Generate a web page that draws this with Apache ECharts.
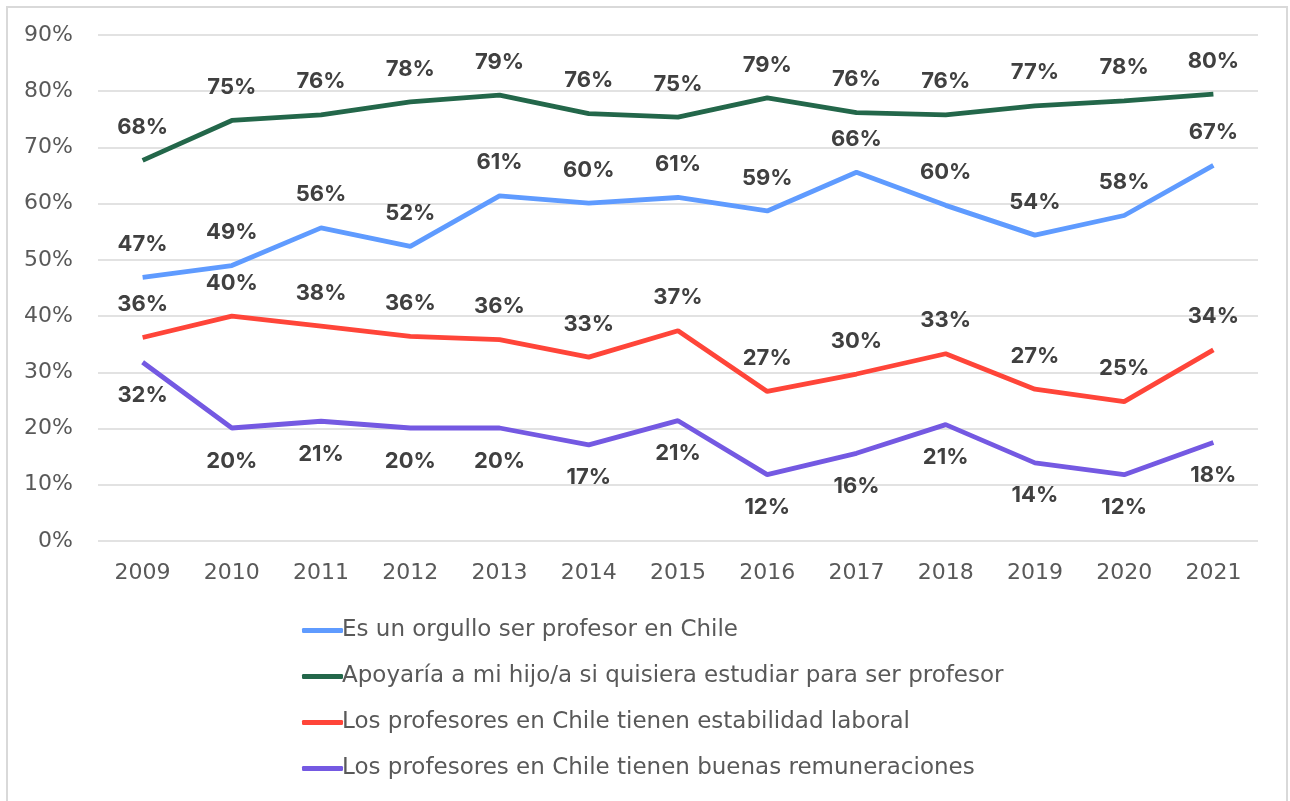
<!DOCTYPE html>
<html>
<head>
<meta charset="utf-8">
<script src="https://cdn.jsdelivr.net/npm/echarts@6/dist/echarts.min.js"></script>
<style>
  html, body { margin: 0; padding: 0; background: #fff; }
  #chart { width: 1290px; height: 801px; }
</style>
</head>
<body>
<div id="chart"></div>
<script>
// datos
const years = ["2009", "2010", "2011", "2012", "2013", "2014", "2015", "2016", "2017", "2018", "2019", "2020", "2021"];
const orgullo = [46.9, 49.0, 55.7, 52.4, 61.4, 60.1, 61.1, 58.7, 65.6, 59.7, 54.4, 57.9, 66.8];
const apoyaria = [67.7, 74.8, 75.8, 78.1, 79.3, 76.0, 75.4, 78.8, 76.2, 75.8, 77.4, 78.3, 79.5];
const estabilidad = [36.2, 40.0, 38.2, 36.4, 35.8, 32.7, 37.4, 26.6, 29.7, 33.3, 27.0, 24.8, 34.0];
const remuneraciones = [31.8, 20.1, 21.3, 20.1, 20.1, 17.1, 21.4, 11.8, 15.6, 20.7, 13.9, 11.8, 17.5];
const seriesNames = [
  "Es un orgullo ser profesor en Chile",
  "Apoyaría a mi hijo/a si quisiera estudiar para ser profesor",
  "Los profesores en Chile tienen estabilidad laboral",
  "Los profesores en Chile tienen buenas remuneraciones"
];
const colors = ["#5f9bff", "#23674a", "#ff4539", "#7459e2"];
const font = "DejaVu Sans";

const chart = echarts.init(document.getElementById("chart"));

function lineSeries(name, data, color, pos) {
  return {
    name: name,
    type: "line",
    data: data,
    symbol: "circle",
    symbolSize: 0,
    lineStyle: { color: color, width: 4.8 },
    itemStyle: { color: color },
    label: {
      show: true,
      position: pos,
      distance: 22,
      formatter: (p) => Math.round(p.value) + "%",
      fontFamily: "Inter",
      fontWeight: "bold",
      fontSize: 22,
      color: "#404040"
    },
    emphasis: { disabled: true }
  };
}

chart.setOption({
  animation: false,
  color: colors,
  graphic: [{
    type: "rect",
    shape: { x: 7, y: 7, width: 1280, height: 810 },
    style: { fill: null, stroke: "#d9d9d9", lineWidth: 2 },
    silent: true
  }],
  grid: { left: 98, right: 32, top: 35, bottom: 260 },
  legend: {
    orient: "vertical",
    left: 297,
    top: 614,
    itemGap: 23,
    itemWidth: 41,
    itemHeight: 5,
    icon: "roundRect",
    data: seriesNames,
    textStyle: { fontFamily: font, fontSize: 23, color: "#595959", padding: [0, 0, 0, -6] }
  },
  xAxis: {
    type: "category",
    data: years,
    boundaryGap: true,
    axisLine: { show: false },
    axisTick: { show: false },
    axisLabel: { margin: 21, fontFamily: font, fontSize: 22, color: "#595959" }
  },
  yAxis: {
    type: "value",
    min: 0,
    max: 90,
    interval: 10,
    axisLine: { show: false },
    axisTick: { show: false },
    splitLine: { lineStyle: { color: "#d9d9d9", width: 1.5 } },
    axisLabel: { margin: 25, formatter: "{value}%", fontFamily: font, fontSize: 22, color: "#595959" }
  },
  series: [
    lineSeries(seriesNames[0], orgullo, colors[0], "top"),
    lineSeries(seriesNames[1], apoyaria, colors[1], "top"),
    lineSeries(seriesNames[2], estabilidad, colors[2], "top"),
    lineSeries(seriesNames[3], remuneraciones, colors[3], "bottom")
  ]
});
</script>
</body>
</html>
